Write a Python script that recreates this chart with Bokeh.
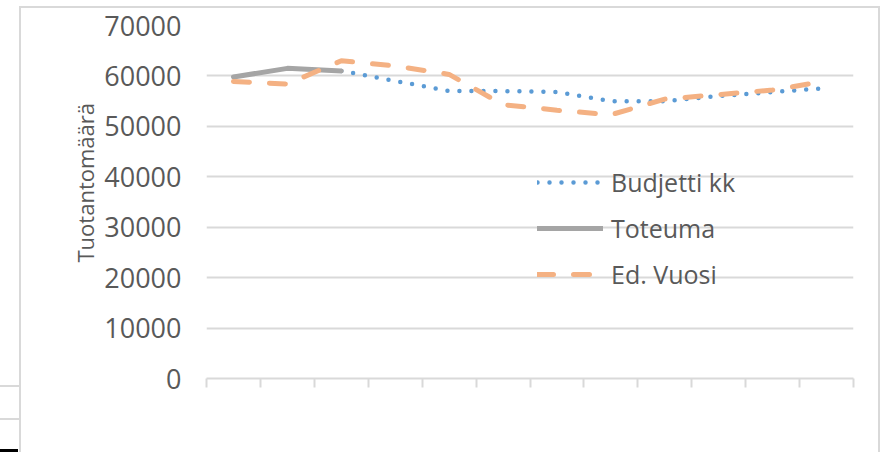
from bokeh.plotting import figure
from bokeh.models import FixedTicker, Legend, LegendItem, Title, ColumnDataSource
from bokeh.embed import file_html
from bokeh.resources import INLINE

# Months 1..12
months = list(range(1, 13))
nan = float("nan")
budjetti_kk = [nan, nan, 61000, 59000, 57000, 57000, 56800, 55000, 55000, 56000, 56800, 57600]
toteuma = [59800, 61500, 61000, nan, nan, nan, nan, nan, nan, nan, nan, nan]
ed_vuosi = [58900, 58400, 63000, 62000, 60300, 54300, 53200, 52300, 55400, 56300, 57200, 59000]
y_ticks = [0, 10000, 20000, 30000, 40000, 50000, 60000, 70000]

FONT = "Open Sans"
TXT = "#595959"
GRID = "#d9d9d9"

p = figure(width=882, height=452, output_backend="svg", toolbar_location=None,
           x_range=(0.5, 12.5), y_range=(0, 70000),
           min_border_left=206, min_border_right=29, min_border_top=25, min_border_bottom=74)
p.outline_line_color = None
p.background_fill_color = "white"
p.border_fill_color = None
# chart-area border and cell edges (drawn as the element background, behind the canvas)
p.styles = {
    "background": ("linear-gradient(#d9d9d9, #d9d9d9) 19px 6px / 2px 100% no-repeat, "
                   "linear-gradient(#d9d9d9, #d9d9d9) 19px 6px / 861px 2px no-repeat, "
                   "linear-gradient(#d9d9d9, #d9d9d9) 878px 6px / 2px 100% no-repeat, "
                   "linear-gradient(#d9d9d9, #d9d9d9) 0px 385px / 19px 2px no-repeat, "
                   "linear-gradient(#d9d9d9, #d9d9d9) 0px 418px / 19px 2px no-repeat, "
                   "linear-gradient(#000000, #000000) 0px 449px / 18px 3px no-repeat, "
                   "#ffffff"),
}

# axes
x_ticks = [m - 0.5 for m in months] + [12.5]
p.xaxis.ticker = FixedTicker(ticks=x_ticks)
p.xaxis.major_label_overrides = {t: "" for t in x_ticks}
p.xaxis.axis_line_color = GRID
p.xaxis.axis_line_width = 2
p.xaxis.major_tick_line_color = GRID
p.xaxis.major_tick_line_width = 2
p.xaxis.major_tick_in = 0
p.xaxis.major_tick_out = 9
p.xaxis.minor_tick_line_color = None
p.xgrid.grid_line_color = None

p.yaxis.ticker = FixedTicker(ticks=y_ticks)
p.yaxis.axis_line_color = None
p.yaxis.major_tick_line_color = None
p.yaxis.minor_tick_line_color = None
p.yaxis.major_label_standoff = 19
p.yaxis.major_label_text_font = FONT
p.yaxis.major_label_text_font_size = "27px"
p.yaxis.major_label_text_color = TXT
p.ygrid.grid_line_color = GRID
p.ygrid.grid_line_width = 2

src = ColumnDataSource(dict(x=months, b=budjetti_kk, t=toteuma, e=ed_vuosi))
r_b = p.line("x", "b", source=src, line_color="#5b9bd5", line_width=4.5,
             line_dash="0 12", line_cap="round")
r_t = p.line("x", "t", source=src, line_color="#a5a5a5", line_width=5, line_cap="round")
r_e = p.line("x", "e", source=src, line_color="#f4b183", line_width=5,
             line_dash="16 20", line_cap="round")

legend = Legend(items=[LegendItem(label="Budjetti kk", renderers=[r_b]),
                       LegendItem(label="Toteuma", renderers=[r_t]),
                       LegendItem(label="Ed. Vuosi", renderers=[r_e])],
                location=(331, 87), glyph_width=66, glyph_height=20, label_height=20,
                spacing=12, padding=0, margin=0, label_standoff=8,
                label_text_font=FONT, label_text_font_size="25px", label_text_color=TXT,
                background_fill_alpha=0, border_line_alpha=0)
p.add_layout(legend)

ytitle = Title(text="Tuotantomäärä", align="left", offset=116, standoff=4,
               text_font=FONT, text_font_size="22px", text_font_style="normal",
               text_color=TXT)
p.add_layout(ytitle, "left")

open("out.html", "w").write(file_html(p, INLINE))
